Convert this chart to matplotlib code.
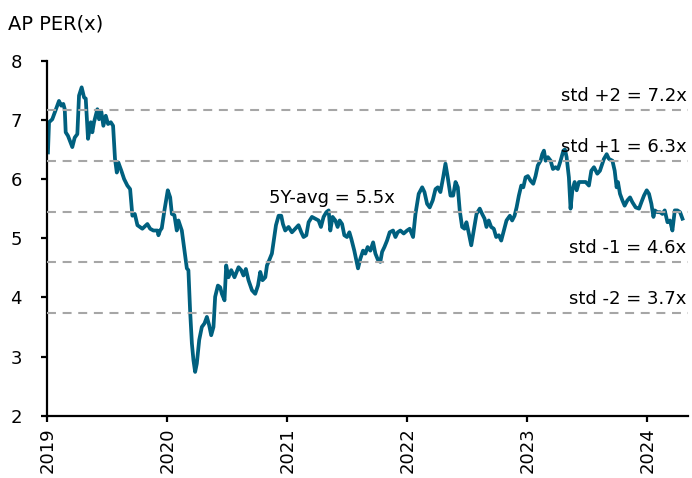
import matplotlib
matplotlib.use('Agg')
import matplotlib.pyplot as plt

# AP PER(x) (time in decimal years)
t_year = [
    2019.004, 2019.013, 2019.040, 2019.082, 2019.096, 2019.115, 2019.132, 2019.144,
    2019.152, 2019.171, 2019.207, 2019.227, 2019.249, 2019.263, 2019.285, 2019.305,
    2019.319, 2019.338, 2019.361, 2019.374, 2019.388, 2019.416, 2019.430, 2019.449,
    2019.466, 2019.486, 2019.505, 2019.528, 2019.547, 2019.563, 2019.578, 2019.591,
    2019.616, 2019.639, 2019.666, 2019.689, 2019.708, 2019.728, 2019.750, 2019.791,
    2019.833, 2019.856, 2019.883, 2019.917, 2019.925, 2019.939, 2019.953, 2019.975,
    2020.003, 2020.023, 2020.037, 2020.058, 2020.078, 2020.092, 2020.120, 2020.142,
    2020.162, 2020.175, 2020.189, 2020.204, 2020.217, 2020.231, 2020.245, 2020.265,
    2020.287, 2020.309, 2020.329, 2020.348, 2020.365, 2020.384, 2020.398, 2020.421,
    2020.440, 2020.454, 2020.476, 2020.490, 2020.509, 2020.532, 2020.559, 2020.593,
    2020.615, 2020.634, 2020.654, 2020.676, 2020.705, 2020.732, 2020.755, 2020.774,
    2020.793, 2020.816, 2020.830, 2020.849, 2020.871, 2020.891, 2020.905, 2020.927,
    2020.949, 2020.963, 2020.982, 2021.010, 2021.038, 2021.066, 2021.093, 2021.116,
    2021.135, 2021.158, 2021.177, 2021.205, 2021.233, 2021.260, 2021.280, 2021.302,
    2021.325, 2021.344, 2021.358, 2021.377, 2021.400, 2021.419, 2021.436, 2021.456,
    2021.475, 2021.497, 2021.517, 2021.533, 2021.558, 2021.575, 2021.589, 2021.608,
    2021.631, 2021.650, 2021.669, 2021.692, 2021.715, 2021.734, 2021.756, 2021.775,
    2021.790, 2021.809, 2021.831, 2021.853, 2021.881, 2021.901, 2021.920, 2021.942,
    2021.970, 2021.998, 2022.020, 2022.048, 2022.068, 2022.095, 2022.124, 2022.143,
    2022.165, 2022.187, 2022.212, 2022.235, 2022.254, 2022.276, 2022.299, 2022.318,
    2022.337, 2022.360, 2022.382, 2022.402, 2022.421, 2022.437, 2022.457, 2022.477,
    2022.493, 2022.513, 2022.533, 2022.554, 2022.577, 2022.604, 2022.624, 2022.644,
    2022.660, 2022.679, 2022.699, 2022.721, 2022.741, 2022.763, 2022.783, 2022.805,
    2022.827, 2022.855, 2022.874, 2022.894, 2022.911, 2022.930, 2022.950, 2022.967,
    2022.986, 2023.005, 2023.028, 2023.050, 2023.069, 2023.088, 2023.111, 2023.125,
    2023.139, 2023.153, 2023.172, 2023.195, 2023.214, 2023.236, 2023.256, 2023.278,
    2023.301, 2023.314, 2023.328, 2023.347, 2023.361, 2023.376, 2023.395, 2023.412,
    2023.431, 2023.459, 2023.487, 2023.514, 2023.534, 2023.556, 2023.584, 2023.606,
    2023.626, 2023.639, 2023.662, 2023.681, 2023.710, 2023.729, 2023.745, 2023.756,
    2023.773, 2023.793, 2023.812, 2023.835, 2023.857, 2023.876, 2023.904, 2023.932,
    2023.952, 2023.973, 2023.996, 2024.015, 2024.035, 2024.052, 2024.063, 2024.085,
    2024.107, 2024.127, 2024.146, 2024.169, 2024.190, 2024.210, 2024.230, 2024.252,
    2024.274, 2024.294,
]
per = [
    6.45, 6.96, 7.01, 7.24, 7.32, 7.24, 7.27, 7.18,
    6.79, 6.73, 6.54, 6.70, 6.76, 7.41, 7.55, 7.38,
    7.36, 6.68, 6.96, 6.79, 6.96, 7.18, 7.01, 7.14,
    6.90, 7.07, 6.93, 6.96, 6.90, 6.34, 6.11, 6.28,
    6.14, 6.00, 5.89, 5.83, 5.38, 5.41, 5.22, 5.16,
    5.24, 5.16, 5.13, 5.13, 5.05, 5.13, 5.17, 5.47,
    5.81, 5.69, 5.41, 5.39, 5.13, 5.30, 5.13, 4.79,
    4.49, 4.46, 3.78, 3.22, 2.94, 2.74, 2.88, 3.28,
    3.50, 3.56, 3.67, 3.53, 3.36, 3.50, 4.01, 4.20,
    4.17, 4.06, 3.95, 4.54, 4.34, 4.46, 4.34, 4.51,
    4.46, 4.37, 4.48, 4.29, 4.12, 4.06, 4.20, 4.43,
    4.29, 4.34, 4.54, 4.63, 4.74, 5.02, 5.22, 5.38,
    5.38, 5.24, 5.13, 5.19, 5.10, 5.16, 5.22, 5.10,
    5.02, 5.05, 5.27, 5.36, 5.33, 5.30, 5.19, 5.36,
    5.44, 5.47, 5.13, 5.36, 5.30, 5.19, 5.30, 5.24,
    5.05, 5.02, 5.10, 4.99, 4.79, 4.63, 4.49, 4.65,
    4.79, 4.74, 4.85, 4.79, 4.93, 4.74, 4.63, 4.60,
    4.77, 4.85, 4.96, 5.10, 5.13, 5.02, 5.10, 5.13,
    5.08, 5.13, 5.16, 5.02, 5.41, 5.75, 5.86, 5.78,
    5.58, 5.52, 5.64, 5.83, 5.86, 5.78, 6.03, 6.26,
    6.03, 5.72, 5.72, 5.95, 5.86, 5.47, 5.19, 5.16,
    5.27, 5.08, 4.88, 5.13, 5.41, 5.50, 5.41, 5.33,
    5.19, 5.30, 5.19, 5.16, 5.02, 5.05, 4.96, 5.13,
    5.30, 5.38, 5.30, 5.38, 5.52, 5.72, 5.89, 5.86,
    6.03, 6.05, 5.97, 5.92, 6.05, 6.23, 6.31, 6.42,
    6.48, 6.31, 6.37, 6.31, 6.17, 6.20, 6.17, 6.31,
    6.48, 6.50, 6.37, 6.03, 5.50, 5.81, 5.95, 5.81,
    5.95, 5.95, 5.95, 5.89, 6.14, 6.20, 6.09, 6.14,
    6.26, 6.34, 6.42, 6.34, 6.31, 6.14, 5.86, 5.95,
    5.75, 5.64, 5.55, 5.64, 5.69, 5.61, 5.52, 5.50,
    5.61, 5.72, 5.81, 5.75, 5.58, 5.36, 5.47, 5.44,
    5.44, 5.41, 5.47, 5.27, 5.30, 5.13, 5.47, 5.47,
    5.44, 5.33,
]

avg_5y = 5.45
std_5y = 0.86
band_k = [2, 1, 0, -1, -2]
band_labels = ['std +2 = 7.2x', 'std +1 = 6.3x', '5Y-avg = 5.5x',
               'std -1 = 4.6x', 'std -2 = 3.7x']
years = [2019, 2020, 2021, 2022, 2023, 2024]

fig = plt.figure(figsize=(6.92, 4.78), dpi=100)
ax = fig.add_axes([0.0686, 0.1303, 0.9256, 0.7427])

ax.plot(t_year, per, color='#00607f', lw=2.7, solid_joinstyle='round', zorder=2)

for k, lab in zip(band_k, band_labels):
    lvl = avg_5y + k * std_5y
    ax.axhline(lvl, color='#a6a6a6', lw=1.5, dashes=(4.3, 3.2), zorder=3)
    if k == 0:
        ax.annotate(lab, xy=(2020.85, lvl), xytext=(0, 6), textcoords='offset points',
                    ha='left', va='baseline', fontsize=13)
    else:
        ax.annotate(lab, xy=(1, lvl), xycoords=('axes fraction', 'data'),
                    xytext=(-1, 6.5), textcoords='offset points',
                    ha='right', va='baseline', fontsize=13)

ax.set_xlim(2019, 2024.34)
ax.set_ylim(2, 8)
ax.set_xticks(years)
ax.set_xticklabels([str(y) for y in years], rotation=90)
ax.set_yticks(range(2, 9))

for side in ['top', 'right']:
    ax.spines[side].set_visible(False)
for side in ['left', 'bottom']:
    ax.spines[side].set_linewidth(1.6)
    ax.spines[side].set_color('black')
ax.tick_params(axis='both', length=4.5, width=1.6, labelsize=13, color='black')
ax.tick_params(axis='y', pad=14)
ax.tick_params(axis='x', pad=4)

fig.text(8 / 692, 1 - 29 / 478, 'AP PER(x)', fontsize=14, va='baseline', ha='left')

fig.savefig('out.png', dpi=100)
